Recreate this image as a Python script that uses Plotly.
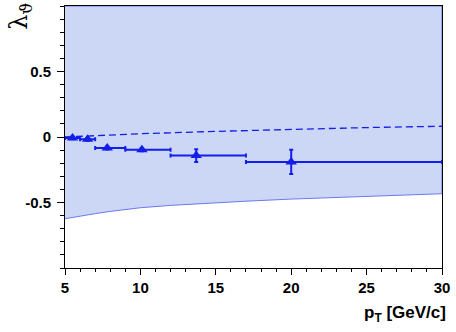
import plotly.graph_objects as go

# Data
pt = [5.5, 6.5, 7.8, 10.1, 13.7, 20.0]
lam = [-0.008, -0.018, -0.084, -0.097, -0.142, -0.19]
bin_lo = [5, 6, 7, 9, 12, 17]
bin_hi = [6, 7, 9, 12, 17, 30]
lam_err = [0.01, 0.01, 0.012, 0.012, 0.048, 0.093]

band_x = [5, 6, 7, 8, 9, 10, 12, 14, 17, 20, 25, 30]
band_lo = [-0.624, -0.603, -0.585, -0.568, -0.553, -0.540, -0.522, -0.508, -0.490, -0.474, -0.453, -0.433]
band_hi = [1] * len(band_x)

dash_x = [5, 7, 10, 15, 20, 25, 30]
dash_y = [0.0, 0.012, 0.025, 0.043, 0.06, 0.072, 0.082]

xmin, xmax = 5, 30
ymin, ymax = -1, 1

blue = "rgb(20,30,235)"
fig = go.Figure()

fig.add_trace(go.Scatter(
    x=band_x + band_x[::-1], y=band_lo + band_hi[::-1],
    fill="toself", fillcolor="rgb(203,215,244)",
    line=dict(color="rgb(110,120,240)", width=1),
    mode="lines", hoverinfo="skip", showlegend=False))

fig.add_trace(go.Scatter(
    x=dash_x, y=dash_y, mode="lines",
    line=dict(color=blue, width=1.3, dash="7px,4px"),
    showlegend=False))

fig.add_trace(go.Scatter(
    x=pt, y=lam, mode="markers",
    marker=dict(symbol="triangle-up", size=10, color=blue),
    error_x=dict(type="data", symmetric=False,
                 array=[h - p for h, p in zip(bin_hi, pt)],
                 arrayminus=[p - l for p, l in zip(pt, bin_lo)],
                 color=blue, thickness=2, width=2),
    error_y=dict(type="data", array=lam_err, color=blue, thickness=2, width=2),
    showlegend=False))

tickfont = dict(family="Liberation Sans", size=15, color="black")
fig.update_xaxes(
    range=[xmin, xmax], tickmode="array", tickvals=[5, 10, 15, 20, 25, 30],
    ticktext=["<b>5</b>", "<b>10</b>", "<b>15</b>", "<b>20</b>", "<b>25</b>", "<b>30</b>"],
    ticks="outside", ticklen=6, tickcolor="black", tickwidth=1,
    minor=dict(dtick=1, tick0=5, ticks="outside", ticklen=3, tickcolor="black"),
    showline=True, linecolor="black", linewidth=1, mirror=True,
    showgrid=False, zeroline=False, tickfont=tickfont)
fig.update_yaxes(
    range=[ymin, ymax], tickmode="array", tickvals=[-0.5, 0, 0.5],
    ticktext=["<b>-0.5</b>", "<b>0</b>", "<b>0.5</b>"],
    ticks="outside", ticklen=7, tickcolor="black", tickwidth=1,
    minor=dict(dtick=0.1, tick0=0, ticks="outside", ticklen=4, tickcolor="black"),
    showline=True, linecolor="black", linewidth=1, mirror=True,
    showgrid=False, zeroline=False, tickfont=tickfont, ticklabelstandoff=3)

fig.add_annotation(
    text="λ<sub>ϑ</sub>", xref="paper", yref="paper", x=-0.118, y=1.02,
    xanchor="center", yanchor="top", textangle=-90, showarrow=False,
    font=dict(family="DejaVu Serif", size=24, color="black"))
fig.add_annotation(
    text="<b>p<sub>T</sub> [GeV/c]</b>", xref="paper", yref="paper", x=1.016, y=-0.125,
    xanchor="right", yanchor="top", showarrow=False,
    font=dict(family="Liberation Sans", size=17, color="black"))

fig.update_layout(
    width=456, height=332, margin=dict(l=65, r=14, t=6, b=64),
    plot_bgcolor="white", paper_bgcolor="white")

fig.write_html("out.html", config={"displayModeBar": False},
               post_script="document.body.style.margin='0px';")
